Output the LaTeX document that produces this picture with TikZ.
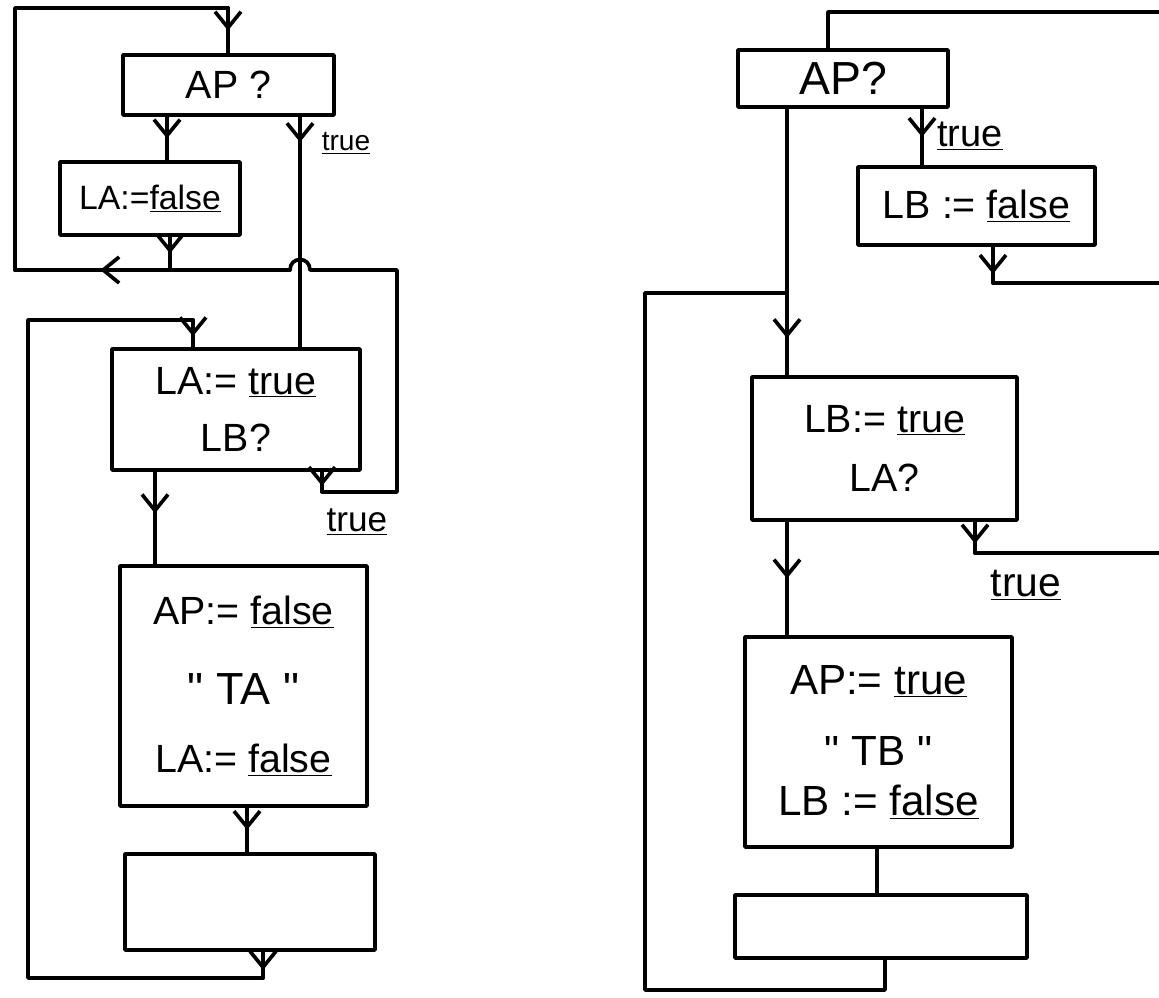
\documentclass[tikz,border=0pt]{standalone}
\usepackage{fontspec}
\setmainfont{Liberation Sans}
\usetikzlibrary{arrows.meta,decorations.markings,calc}
\newcommand{\kw}[1]{\underline{#1}}

\begin{document}
\begin{tikzpicture}[
  x=0.25mm, y=-0.25mm,
  line width=2.6pt, line cap=round, line join=round,
  font=\fontsize{28}{34}\selectfont,
  box/.style 2 args={draw, line width=2.6pt, align=center, inner sep=0pt, minimum width=#1, minimum height=#2},
  flow/.style={decoration={markings, mark=at position #1 with {\arrow{Straight Barb[length=4mm,width=6.5mm]}}}, postaction={decorate}},
  flow/.default=0.5,
  lab/.style={inner sep=0pt, font=\fontsize{#1}{#1}\selectfont}
]
\useasboundingbox (0,0) rectangle (1159,997);

% ---- left: process A
\node[box={52.75mm}{15mm}] (apL) at (228.5,85) {AP ?};
\node[box={45mm}{18.25mm}, font=\fontsize{24}{28}\selectfont] (lafL) at (150,198.5) {LA:=\kw{false}};
\node[box={62mm}{30.25mm}] (latL) at (236,409.5) {LA:= \kw{true}\\[2.5mm]LB?};
\node[box={61.75mm}{60mm}] (apfL) at (243.5,686) {AP:= \kw{false}\\[8mm]{\fontsize{32}{34}\selectfont\textquotedbl\ TA \textquotedbl}\\[5mm]LA:= \kw{false}};
\node[box={62.5mm}{24mm}] (emL) at (250,902) {};

\coordinate (cL1) at (15,8);
\coordinate (cL2) at (228,8);
\coordinate (cL3) at (15,270);
\coordinate (cL4) at (397,270);
\coordinate (cL5) at (397,492);
\coordinate (cL6) at (322,492);
\coordinate (hopR) at (310,270);
\coordinate (hopL) at (290,270);
\coordinate (mL) at (170,270);
\coordinate (xb) at (167,0);
\coordinate (xd) at (300,0);
\coordinate (xi) at (155,0);
\coordinate (xj) at (247,0);
\coordinate (cL7) at (28,320);
\coordinate (cL8) at (193,320);
\coordinate (cL9) at (28,978);
\coordinate (cL10) at (263,978);

\draw[flow] (cL2) -- (cL2 |- apL.north);
\draw[flow] (apL.south -| xb) -- (lafL.north -| xb);
\draw[flow] (lafL.south -| mL) -- (mL);
\draw[flow=0.11] (apL.south -| xd) -- (latL.north -| xd);
\node[lab=20] (tr1) at (346,143) {\kw{true}};
\draw[flow=0.7] (latL.south -| cL6) -- (cL6);
\draw (cL6) -- (cL5) -- (cL4) -- (hopR)
  .. controls ($(hopR)+(0,-14)$) and ($(hopL)+(0,-14)$) .. (hopL);
\draw[flow=0.69] (hopL) -- (cL3);
\draw (cL3) -- (cL1) -- (cL2);
\node[lab=25] (tr2) at (357,522) {\kw{true}};

\draw[flow=0.45] (latL.south -| xi) -- (apfL.north -| xi);
\draw[flow] (apfL.south -| xj) -- (emL.north -| xj);
\draw[flow=0.7] (emL.south -| cL10) -- (cL10);
\draw (cL10) -- (cL9) -- (cL7) -- (cL8);
\draw[flow=0.6] (cL8) -- (cL8 |- latL.north);

% ---- right: process B
\node[box={52.5mm}{14.25mm}, font=\fontsize{33}{38}\selectfont] (apR) at (843,78.5) {AP?};
\node[box={59.25mm}{19.5mm}] (lbfR) at (976.5,206) {LB := \kw{false}};
\node[box={66.25mm}{35.75mm}] (lbtR) at (884.5,448.5) {LB:= \kw{true}\\[3mm]LA?};
\node[box={66.75mm}{52.5mm}, font=\fontsize{30}{34}\selectfont] (aptR) at (878.5,742) {AP:= \kw{true}\\[6mm]\textquotedbl\ TB \textquotedbl\\[0.5mm]LB := \kw{false}};
\node[box={73mm}{15.75mm}] (emR) at (881,926.5) {};

\coordinate (cR1) at (828,12);
\coordinate (cR2) at (1159,12);
\coordinate (cR3) at (993,283);
\coordinate (cR4) at (1159,283);
\coordinate (jR) at (787,293);
\coordinate (cR5) at (645,293);
\coordinate (cR6) at (645,990);
\coordinate (cR7) at (885,990);
\coordinate (cR8) at (975,553);
\coordinate (cR9) at (1159,553);
\coordinate (xR3) at (922,0);
\coordinate (xR7) at (877,0);

\draw (cR2) -- (cR1) -- (cR1 |- apR.north);
\draw (apR.south -| jR) -- (jR);
\draw[flow=0.55] (jR) -- (jR |- lbtR.north);
\draw[flow] (apR.south -| xR3) -- (lbfR.north -| xR3);
\node[lab=27] (tr3) at (970,136) {\kw{true}};
\draw[flow=0.75] (lbfR.south -| cR3) -- (cR3);
\draw (cR3) -- (cR4);
\draw[flow=0.7] (lbtR.south -| cR8) -- (cR8);
\draw (cR8) -- (cR9);
\node[lab=29] (tr4) at (1026,585) {\kw{true}};
\draw[flow] (lbtR.south -| jR) -- (aptR.north -| jR);
\draw (aptR.south -| xR7) -- (emR.north -| xR7);
\draw (emR.south -| cR7) -- (cR7) -- (cR6) -- (cR5) -- (jR);
\end{tikzpicture}
\end{document}
